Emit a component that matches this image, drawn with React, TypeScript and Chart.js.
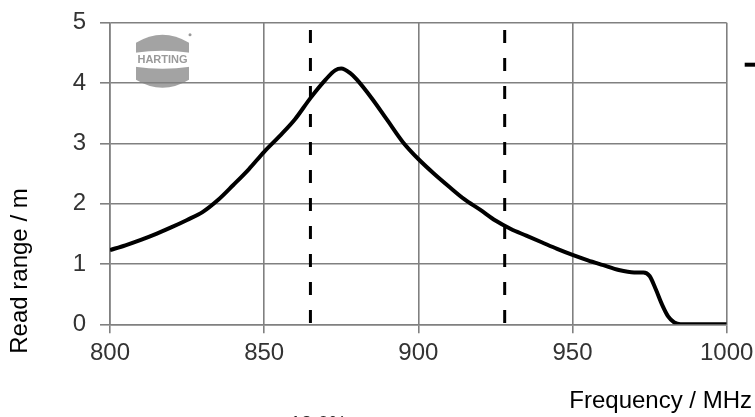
import React, { useEffect, useRef } from 'react';
import { Chart, registerables } from 'chart.js';

Chart.register(...registerables);

// ---- data ----
const frequencies = [800, 805, 810, 815, 820, 825, 830, 835, 840, 845, 850, 855, 860, 865, 870, 873, 875, 878, 880, 885, 890, 895, 900, 905, 910, 915, 920, 925, 930, 935, 940, 945, 950, 955, 960, 965, 970, 973, 975, 977, 979, 981, 983, 985, 990, 1000];
const readRange = [1.23, 1.31, 1.40, 1.50, 1.61, 1.73, 1.86, 2.06, 2.31, 2.57, 2.86, 3.12, 3.40, 3.75, 4.06, 4.21, 4.24, 4.16, 4.06, 3.74, 3.38, 3.02, 2.74, 2.50, 2.28, 2.07, 1.90, 1.72, 1.58, 1.47, 1.36, 1.25, 1.15, 1.06, 0.98, 0.90, 0.86, 0.86, 0.80, 0.58, 0.33, 0.13, 0.03, 0, 0, 0];
const bandLimits = [865, 928];
const xTicks = [800, 850, 900, 950, 1000];
const yTicks = [0, 1, 2, 3, 4, 5];
const xTitle = 'Frequency / MHz';
const yTitle = 'Read range / m';
const logoText = 'HARTING';
const cutText = '12.0%';

const FONT = '"Liberation Sans", Arial, sans-serif';
const GRID = '#808080';

const decorPlugin = {
  id: 'decor',
  beforeDraw(chart: any) {
    const ctx = chart.ctx as CanvasRenderingContext2D;
    const { left, top } = chart.chartArea;
    ctx.save();
    ctx.fillStyle = '#ffffff';
    ctx.fillRect(0, 0, chart.width, chart.height);
    // logo
    const lx = left + 26;
    const ly = top + 10;
    const w = 53;
    ctx.fillStyle = '#a3a3a3';
    ctx.beginPath();
    ctx.moveTo(lx, ly + 10);
    ctx.quadraticCurveTo(lx + w / 2, ly - 6, lx + w, ly + 10);
    ctx.lineTo(lx + w, ly + 47);
    ctx.quadraticCurveTo(lx + w / 2, ly + 63, lx, ly + 47);
    ctx.closePath();
    ctx.fill();
    ctx.fillStyle = '#ffffff';
    ctx.beginPath();
    ctx.moveTo(lx - 1, ly + 20);
    ctx.quadraticCurveTo(lx + w / 2, ly + 16, lx + w + 1, ly + 20);
    ctx.lineTo(lx + w + 1, ly + 34);
    ctx.quadraticCurveTo(lx + w / 2, ly + 38, lx - 1, ly + 34);
    ctx.closePath();
    ctx.fill();
    ctx.fillStyle = '#9a9a9a';
    ctx.font = 'bold 11px ' + FONT;
    ctx.textAlign = 'center';
    ctx.textBaseline = 'middle';
    ctx.fillText(logoText, lx + w / 2, ly + 27, w);
    ctx.beginPath();
    ctx.arc(lx + w + 1, ly + 2, 1.5, 0, Math.PI * 2);
    ctx.fill();
    ctx.restore();
  },
  afterDraw(chart: any) {
    const ctx = chart.ctx as CanvasRenderingContext2D;
    const { right, top, bottom } = chart.chartArea;
    ctx.save();
    ctx.fillStyle = '#000000';
    ctx.font = '24px ' + FONT;
    // x title
    ctx.textAlign = 'right';
    ctx.textBaseline = 'alphabetic';
    ctx.fillText(xTitle, chart.width - 3, bottom + 84);
    // y title
    ctx.translate(27, 271);
    ctx.rotate(-Math.PI / 2);
    ctx.textAlign = 'center';
    ctx.fillText(yTitle, 0, 0);
    ctx.restore();
    // cut-off legend line fragment and text
    ctx.save();
    ctx.strokeStyle = '#000000';
    ctx.lineWidth = 4;
    ctx.beginPath();
    ctx.moveTo(right + 18, top + 42);
    ctx.lineTo(chart.width, top + 42);
    ctx.stroke();
    ctx.fillStyle = '#222222';
    ctx.font = '20px ' + FONT;
    ctx.textAlign = 'left';
    ctx.textBaseline = 'top';
    ctx.fillText(cutText, 290, chart.height - 3);
    ctx.restore();
  },
};

export default function App() {
  const ref = useRef<HTMLCanvasElement | null>(null);

  useEffect(() => {
    if (!ref.current) return;
    const curve = frequencies.map((f, i) => ({ x: f, y: readRange[i] }));
    const yMax = yTicks[yTicks.length - 1];
    const yMin = yTicks[0];
    const dashSets = bandLimits.map((b) => ({
      data: [{ x: b, y: yMax }, { x: b, y: yMin }],
      borderColor: '#000000',
      borderWidth: 3,
      borderDash: [13, 15],
      borderDashOffset: 20.7,
      pointRadius: 0,
      tension: 0,
      fill: false,
      order: 2,
    }));
    const chart = new Chart(ref.current, {
      type: 'line',
      data: {
        datasets: [
          {
            data: curve,
            borderColor: '#000000',
            borderWidth: 4,
            pointRadius: 0,
            cubicInterpolationMode: 'monotone',
            fill: false,
            order: 1,
          } as any,
          ...(dashSets as any[]),
        ],
      },
      options: {
        animation: false,
        responsive: true,
        maintainAspectRatio: false,
        layout: { padding: { top: 22.7, right: 28.3, left: 0, bottom: 0 } },
        plugins: { legend: { display: false }, tooltip: { enabled: false } },
        scales: {
          x: {
            type: 'linear',
            min: xTicks[0],
            max: xTicks[xTicks.length - 1],
            afterBuildTicks: (s: any) => {
              s.ticks = xTicks.map((v) => ({ value: v }));
            },
            afterFit: (s: any) => {
              s.height = 92.7;
              s.paddingLeft = 0;
              s.paddingRight = 0;
              s.paddingTop = 0;
              s.paddingBottom = 0;
            },
            grid: { color: GRID, lineWidth: 1.6, drawTicks: true, tickLength: 9 },
            border: { display: true, color: GRID, width: 1.6 },
            ticks: {
              color: '#333333',
              font: { family: FONT, size: 24 },
              padding: 6,
              maxRotation: 0,
              autoSkip: false,
              callback: (v: any) => String(v),
            },
          },
          y: {
            type: 'linear',
            min: yTicks[0],
            max: yTicks[yTicks.length - 1],
            afterBuildTicks: (s: any) => {
              s.ticks = yTicks.map((v) => ({ value: v }));
            },
            afterFit: (s: any) => {
              s.width = 110;
              s.paddingLeft = 0;
              s.paddingRight = 0;
              s.paddingTop = 0;
              s.paddingBottom = 0;
            },
            grid: { color: GRID, lineWidth: 1.6, drawTicks: true, tickLength: 10 },
            border: { display: true, color: GRID, width: 1.6 },
            ticks: {
              color: '#333333',
              font: { family: FONT, size: 24 },
              padding: 14,
              autoSkip: false,
              callback: (v: any) => String(v),
            },
          },
        },
      } as any,
      plugins: [decorPlugin],
    });
    return () => chart.destroy();
  }, []);

  return (
    <div style={{ position: 'absolute', left: 0, top: 0, width: 755, height: 417, background: '#fff' }}>
      <canvas ref={ref} />
    </div>
  );
}
